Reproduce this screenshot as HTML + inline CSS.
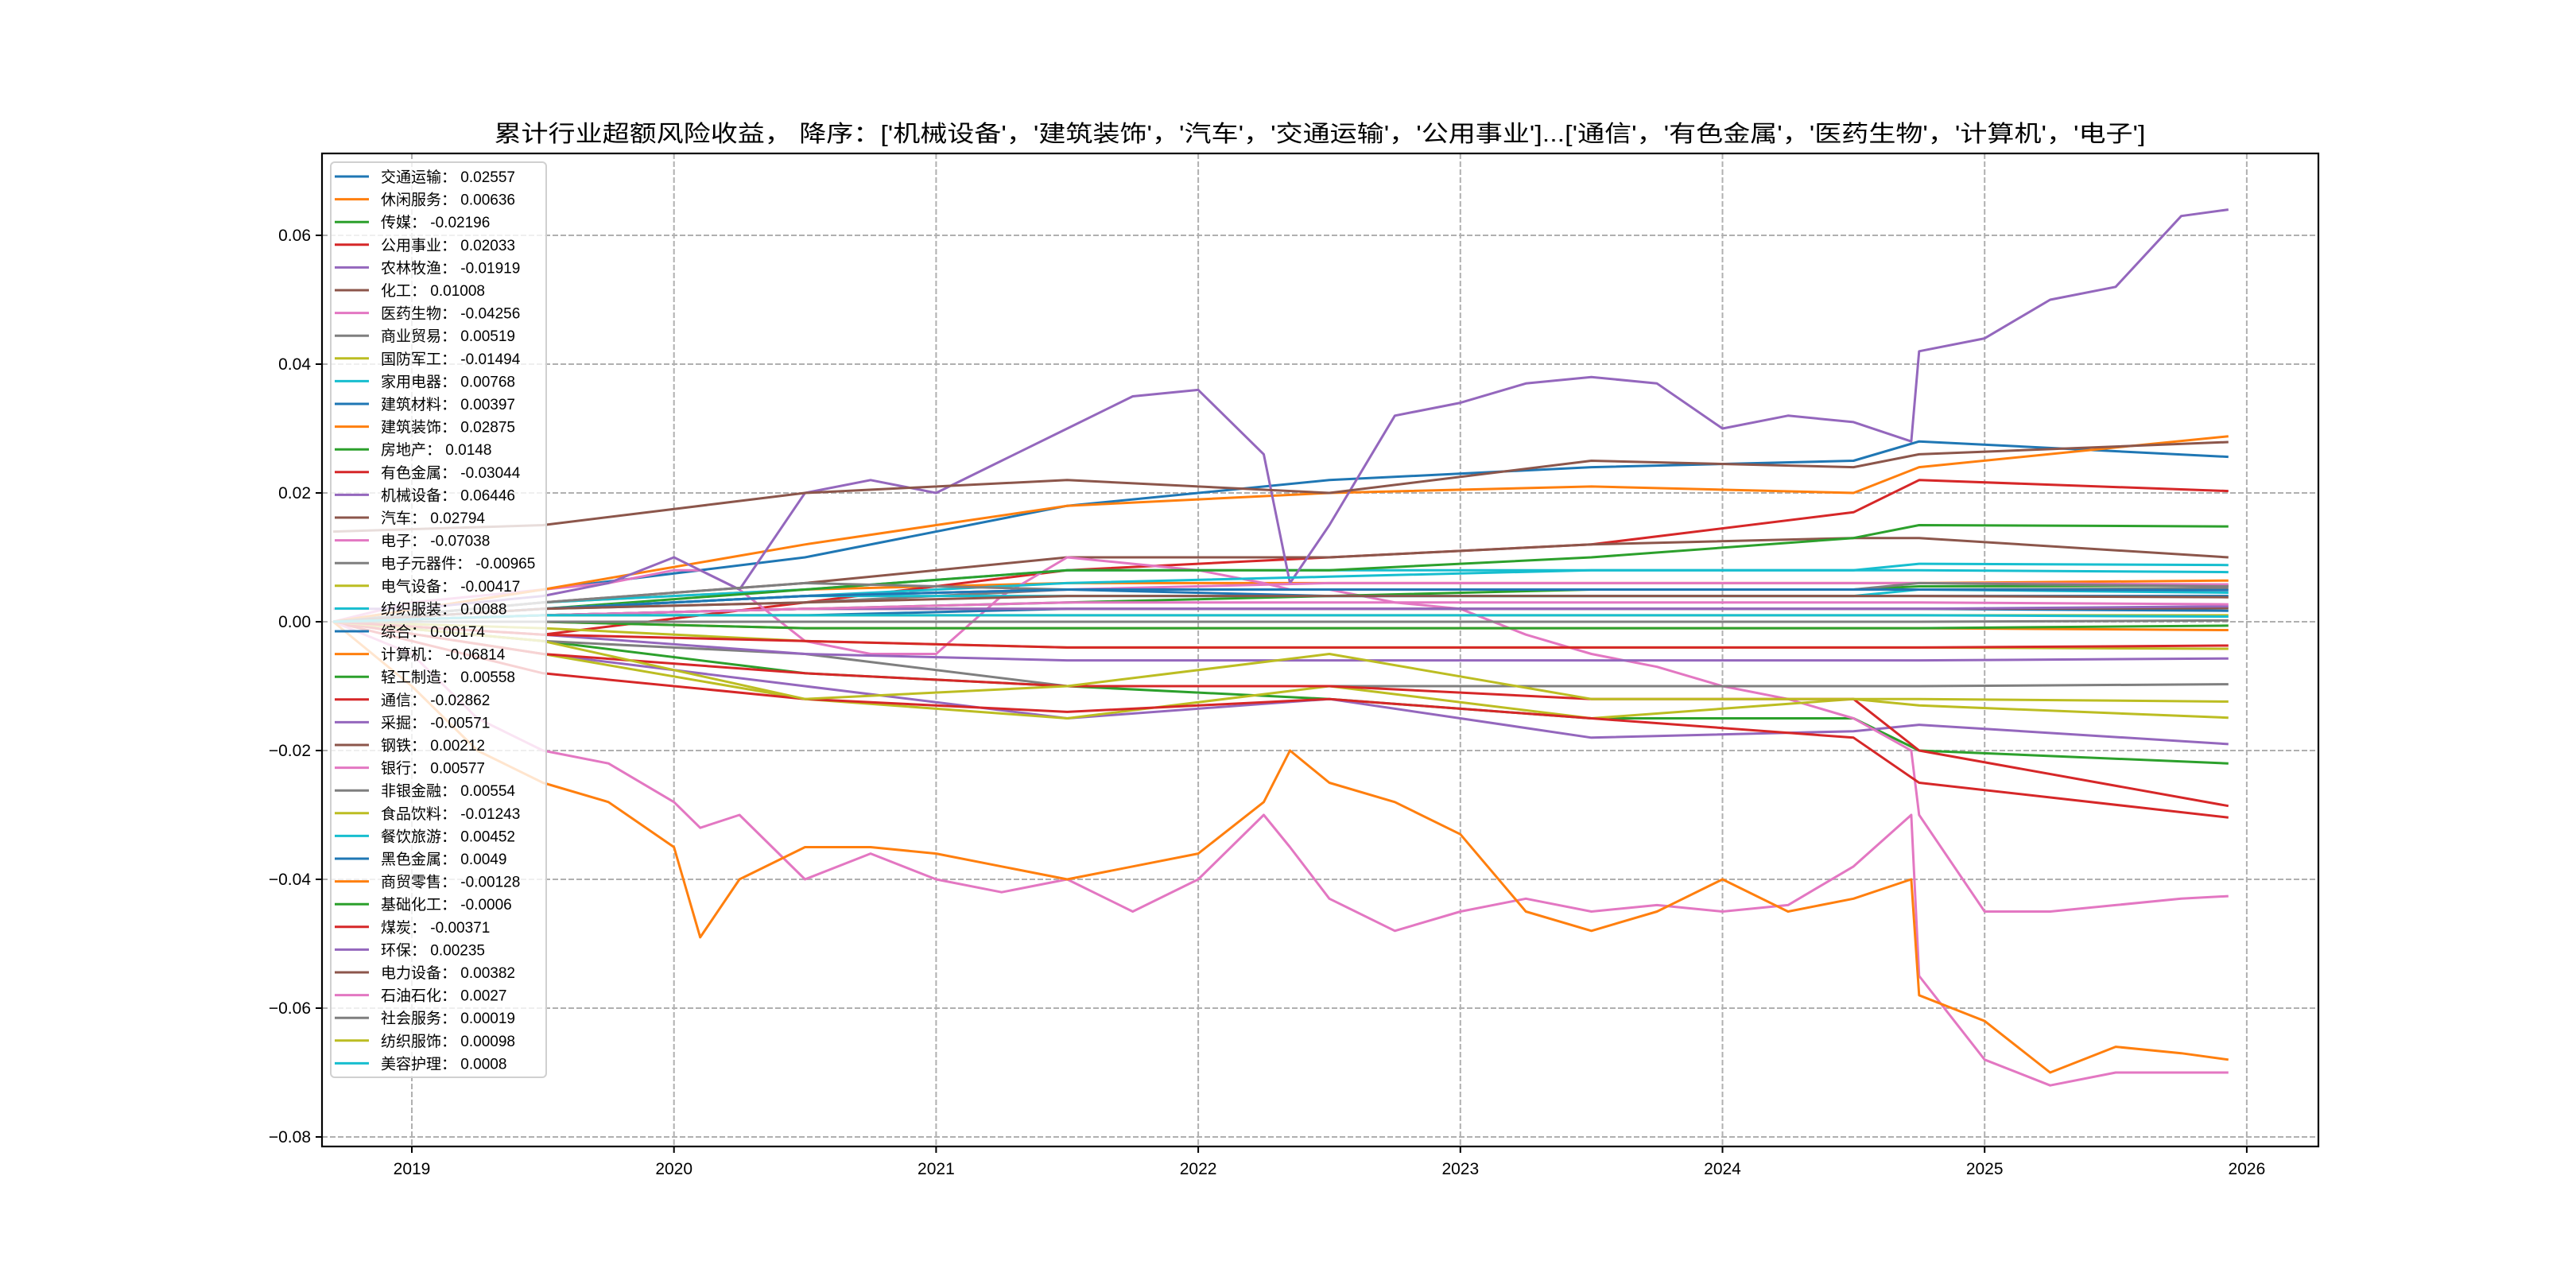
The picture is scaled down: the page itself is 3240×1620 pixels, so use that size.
<!DOCTYPE html>
<html><head><meta charset="utf-8">
<style>
html,body{margin:0;padding:0;background:#fff;}
svg{display:block;}
text{font-family:"Liberation Sans","WenQuanYi Zen Hei",sans-serif;}
</style></head>
<body>
<svg id="chart" width="3240" height="1620" viewBox="0 0 3240 1620" xmlns="http://www.w3.org/2000/svg">
<rect width="3240" height="1620" fill="#fff"/>
<text x="1660" y="178" font-size="29" text-anchor="middle" textLength="2077" lengthAdjust="spacingAndGlyphs">累计行业超额风险收益，  降序：['机械设备'，'建筑装饰'，'汽车'，'交通运输'，'公用事业']...['通信'，'有色金属'，'医药生物'，'计算机'，'电子']</text>
<g id="grid"></g>
<g id="lines"></g>
<g id="axes"></g>
<g id="legend"></g>
</svg>
<script>
// ---- data ----
const fineT = [2018.7,2019.0,2019.25,2019.5,2019.75,2020.0,2020.1,2020.25,2020.5,2020.75,2021.0,2021.25,2021.5,2021.75,2022.0,2022.25,2022.35,2022.5,2022.75,2023.0,2023.25,2023.5,2023.75,2024.0,2024.25,2024.5,2024.72,2024.75,2025.0,2025.25,2025.5,2025.75,2025.93];
const coarseT = [2018.7,2019.5,2020.5,2021.5,2022.5,2023.5,2024.5,2024.75,2025.93];
const seriesNames = ['交通运输','休闲服务','传媒','公用事业','农林牧渔','化工','医药生物','商业贸易','国防军工','家用电器','建筑材料','建筑装饰','房地产','有色金属','机械设备','汽车','电子','电子元器件','电气设备','纺织服装','综合','计算机','轻工制造','通信','采掘','钢铁','银行','非银金融','食品饮料','餐饮旅游','黑色金属','商贸零售','基础化工','煤炭','环保','电力设备','石油石化','社会服务','纺织服饰','美容护理'];
const finalValues = ['0.02557','0.00636','-0.02196','0.02033','-0.01919','0.01008','-0.04256','0.00519','-0.01494','0.00768','0.00397','0.02875','0.0148','-0.03044','0.06446','0.02794','-0.07038','-0.00965','-0.00417','0.0088','0.00174','-0.06814','0.00558','-0.02862','-0.00571','0.00212','0.00577','0.00554','-0.01243','0.00452','0.0049','-0.00128','-0.0006','-0.00371','0.00235','0.00382','0.0027','0.00019','0.00098','0.0008'];
// fine-grid series
const jixie = [0.002,0.002,0.003,0.004,0.006,0.010,0.008,0.005,0.020,0.022,0.020,0.025,0.030,0.035,0.036,0.026,0.006,0.015,0.032,0.034,0.037,0.038,0.037,0.030,0.032,0.031,0.028,0.042,0.044,0.050,0.052,0.063,0.064];
const dianzi = [0,-0.005,-0.015,-0.020,-0.022,-0.028,-0.032,-0.030,-0.040,-0.036,-0.040,-0.042,-0.040,-0.045,-0.040,-0.030,-0.035,-0.043,-0.048,-0.045,-0.043,-0.045,-0.044,-0.045,-0.044,-0.038,-0.030,-0.055,-0.068,-0.072,-0.070,-0.070,-0.070];
const jisuanji = [0,-0.010,-0.020,-0.025,-0.028,-0.035,-0.049,-0.040,-0.035,-0.035,-0.036,-0.038,-0.040,-0.038,-0.036,-0.028,-0.020,-0.025,-0.028,-0.033,-0.045,-0.048,-0.045,-0.040,-0.045,-0.043,-0.040,-0.058,-0.062,-0.070,-0.066,-0.067,-0.068];
const yiyao = [0,0.003,0.004,0.005,0.006,0.008,0.008,0.005,-0.003,-0.005,-0.005,0.004,0.010,0.009,0.008,0.006,0.005,0.005,0.003,0.002,-0.002,-0.005,-0.007,-0.010,-0.012,-0.015,-0.020,-0.030,-0.045,-0.045,-0.044,-0.043,-0.0426];
// coarse-grid series
const coarse = {
'交通运输':[0,0.005,0.010,0.018,0.022,0.024,0.025,0.028,0.0256],
'休闲服务':[0,0.003,0.005,0.006,0.006,0.006,0.006,0.006,0.0064],
'传媒':[0,-0.003,-0.008,-0.010,-0.012,-0.015,-0.015,-0.020,-0.022],
'公用事业':[0,-0.002,0.003,0.008,0.010,0.012,0.017,0.022,0.0203],
'农林牧渔':[0,-0.005,-0.010,-0.015,-0.012,-0.018,-0.017,-0.016,-0.019],
'化工':[0,0.003,0.006,0.010,0.010,0.012,0.013,0.013,0.010],
'商业贸易':[0,0.002,0.003,0.005,0.005,0.005,0.005,0.005,0.0052],
'国防军工':[0,-0.005,-0.012,-0.015,-0.010,-0.015,-0.012,-0.013,-0.0149],
'家用电器':[0,0.003,0.005,0.008,0.008,0.008,0.008,0.008,0.0077],
'建筑材料':[0,0.002,0.004,0.005,0.004,0.004,0.004,0.004,0.004],
'建筑装饰':[0,0.005,0.012,0.018,0.020,0.021,0.020,0.024,0.0288],
'房地产':[0,0.002,0.005,0.008,0.008,0.010,0.013,0.015,0.0148],
'有色金属':[0,-0.008,-0.012,-0.014,-0.012,-0.015,-0.018,-0.025,-0.0304],
'汽车':[0.014,0.015,0.020,0.022,0.020,0.025,0.024,0.026,0.0279],
'电子元器件':[0,-0.003,-0.005,-0.010,-0.010,-0.010,-0.010,-0.010,-0.0097],
'电气设备':[0,-0.001,-0.003,-0.004,-0.004,-0.004,-0.004,-0.004,-0.0042],
'纺织服装':[0,0.002,0.004,0.006,0.007,0.008,0.008,0.009,0.0088],
'综合':[0,0.001,0.001,0.002,0.002,0.002,0.002,0.002,0.0017],
'轻工制造':[0,0.001,0.002,0.003,0.004,0.005,0.005,0.0055,0.0056],
'通信':[0,-0.005,-0.008,-0.010,-0.010,-0.012,-0.012,-0.020,-0.0286],
'采掘':[0,-0.002,-0.005,-0.006,-0.006,-0.006,-0.006,-0.006,-0.0057],
'钢铁':[0,0.001,0.002,0.002,0.002,0.002,0.002,0.002,0.0021],
'银行':[0,0.002,0.004,0.005,0.006,0.006,0.006,0.006,0.0058],
'非银金融':[0,0.003,0.006,0.005,0.005,0.005,0.005,0.006,0.0055],
'食品饮料':[0,-0.003,-0.012,-0.010,-0.005,-0.012,-0.012,-0.012,-0.0124],
'餐饮旅游':[0,0.002,0.004,0.004,0.004,0.004,0.004,0.005,0.0045],
'黑色金属':[0,0.002,0.004,0.005,0.005,0.005,0.005,0.005,0.0049],
'商贸零售':[0,0.000,-0.001,-0.001,-0.001,-0.001,-0.001,-0.001,-0.0013],
'基础化工':[0,0.000,-0.001,-0.001,-0.001,-0.001,-0.001,-0.001,-0.0006],
'煤炭':[0,-0.002,-0.003,-0.004,-0.004,-0.004,-0.004,-0.004,-0.0037],
'环保':[0,0.001,0.002,0.002,0.002,0.002,0.002,0.002,0.0024],
'电力设备':[0,0.002,0.003,0.004,0.004,0.004,0.004,0.004,0.0038],
'石油石化':[0,0.001,0.002,0.003,0.003,0.003,0.003,0.003,0.0027],
'社会服务':[0,0.000,0.000,0.000,0.000,0.000,0.000,0.000,0.0002],
'纺织服饰':[0,0.001,0.001,0.001,0.001,0.001,0.001,0.001,0.001],
'美容护理':[0,0.001,0.001,0.001,0.001,0.001,0.001,0.001,0.0008]
};
const fine = {'机械设备':jixie,'电子':dianzi,'计算机':jisuanji,'医药生物':yiyao};
const yTicks = [0.06,0.04,0.02,0.00,-0.02,-0.04,-0.06,-0.08];
const yTickLabels = ['0.06','0.04','0.02','0.00','−0.02','−0.04','−0.06','−0.08'];
const xTicks = [2019,2020,2021,2022,2023,2024,2025,2026];
const colors = ['#1f77b4','#ff7f0e','#2ca02c','#d62728','#9467bd','#8c564b','#e377c2','#7f7f7f','#bcbd22','#17becf'];

// ---- scales ----
const L=405,R=2916,T=193,B=1442;
function xs(t){return 518+(t-2019)*329.7;}
function ys(v){return 782-v*8100;}
const NS='http://www.w3.org/2000/svg';
function mk(tag,attrs,parent){const e=document.createElementNS(NS,tag);for(const k in attrs)e.setAttribute(k,attrs[k]);parent.appendChild(e);return e;}

const grid=document.getElementById('grid'),axes=document.getElementById('axes'),lines=document.getElementById('lines'),legend=document.getElementById('legend');
yTicks.forEach((v,i)=>{
  const y=ys(v);
  const g=mk('line',{x1:L,x2:R,y1:y,y2:y,stroke:'#b0b0b0','stroke-width':2,'stroke-dasharray':'7,3'},grid);
  
  
  const tk=mk('line',{x1:L-8,x2:L,y1:y,y2:y,stroke:'#000','stroke-width':2},axes);
  
  
  const tx=mk('text',{x:L-14,y:y+7,'font-size':21,'text-anchor':'end'},axes);
  tx.textContent=yTickLabels[i];
  
  
});
xTicks.forEach(t=>{
  const x=xs(t);
  const g=mk('line',{x1:x,x2:x,y1:T,y2:B,stroke:'#b0b0b0','stroke-width':2,'stroke-dasharray':'7,3'},grid);
  
  
  const tk=mk('line',{x1:x,x2:x,y1:B,y2:B+8,stroke:'#000','stroke-width':2},axes);
  
  
  const tx=mk('text',{x:x,y:B+35,'font-size':21,'text-anchor':'middle'},axes);
  tx.textContent=String(t);
  
  
});
const frame=mk('rect',{x:L,y:T,width:R-L,height:B-T,fill:'none',stroke:'#000','stroke-width':2.2},axes);



seriesNames.forEach((n,i)=>{
  const vals=fine[n]||coarse[n];
  const ts=fine[n]?fineT:coarseT;
  const pts=vals.map((v,j)=>xs(ts[j]).toFixed(1)+','+ys(v).toFixed(1)).join(' ');
  const p=mk('polyline',{points:pts,fill:'none',stroke:colors[i%10],'stroke-width':3,'stroke-linejoin':'round'},lines);
  
  
});

// legend
const lb=mk('rect',{x:416,y:204,width:271,height:1151,rx:5,fill:'#fff','fill-opacity':0.8,stroke:'#d0d0d0','stroke-width':2},legend);


seriesNames.forEach((n,i)=>{
  const y=222+i*28.6;
  const l=mk('line',{x1:421,x2:464,y1:y,y2:y,stroke:colors[i%10],'stroke-width':3},legend);
  
  
  const t=mk('text',{x:479,y:y+7,'font-size':19},legend);
  t.textContent=n+'： '+finalValues[i];
  
  
});
</script>
</body></html>
